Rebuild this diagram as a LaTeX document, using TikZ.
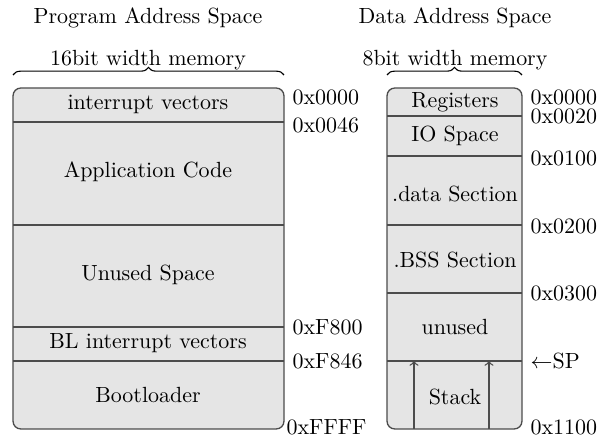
\documentclass[tikz,border=0pt]{standalone}
\usepackage{amsmath}
\usepackage{tikz}
\usetikzlibrary{positioning}
\usetikzlibrary{decorations.pathreplacing}
\usepackage{xcolor}

\tikzset{
  memblock/.style={draw=black!70, fill=black!10, line width=0.6pt, rounded corners=3.6pt},
  divider/.style={black!70, line width=0.6pt},
  addr/.style={anchor=west, inner sep=1pt},
  membrace/.style={decorate, decoration={brace, amplitude=3.5pt}, line width=0.5pt}
}

\begin{document}
\begin{tikzpicture}[x=0.016cm, y=-0.016cm]
\useasboundingbox (0,0) rectangle (608,437);

% program memory
\begin{scope}{
\draw[memblock] (13,88) rectangle (284,429);

\draw[divider] (13,122)--(284,122);
\draw[divider] (13,225)--(284,225);
\draw[divider] (13,327)--(284,327);
\draw[divider] (13,361)--(284,361);

\node (progtitle) at (148,18) {Program Address Space};
\node (progwidth) at (148,60) {16bit width memory};
\draw[membrace] (13,75)--(284,75);

% nodes
{
\node (ivec) at (148,104) {interrupt vectors};
\node (appcode) at (148,172) {Application Code};
\node (unusedspace) at (148,275) {Unused Space};
\node (blivec) at (148,343) {BL interrupt vectors};
\node (boot) at (148,395) {Bootloader};

\node[addr] at (290,97) {0x0000};
\node[addr] at (290,125) {0x0046};
\node[addr] at (290,327) {0xF800};
\node[addr] at (290,361) {0xF846};
\node[addr] at (284,427) {0xFFFF};
}
} \end{scope}

% data memory
\begin{scope}{
\draw[memblock] (387,88) rectangle (522,429);

\draw[divider] (387,116)--(522,116);
\draw[divider] (387,156)--(522,156);
\draw[divider] (387,225)--(522,225);
\draw[divider] (387,293)--(522,293);
\draw[divider] (387,361)--(522,361);

\node (datatitle) at (455,18) {Data Address Space};
\node (datawidth) at (455,60) {8bit width memory};
\draw[membrace] (387,75)--(522,75);

% nodes
{
\node (regs) at (455,102) {Registers};
\node (iospace) at (455,136) {IO Space};
\node (datasec) at (455,194) {.data Section};
\node (bsssec) at (455,260) {.BSS Section};
\node (unuseddata) at (455,327) {unused};
\node (stack) at (455,397) {Stack};

\node[addr] at (528,97) {0x0000};
\node[addr] at (528,116) {0x0020};
\node[addr] at (528,158) {0x0100};
\node[addr] at (528,226) {0x0200};
\node[addr] at (528,293) {0x0300};
\node[addr] (sp) at (528,361) {$\leftarrow$SP};
\node[addr] at (528,427) {0x1100};
}

% stack growth
\coordinate (stackLbot) at (414,429);
\coordinate (stackLtop) at (414,361);
\coordinate (stackRbot) at (489,429);
\coordinate (stackRtop) at (489,361);
\draw[divider, ->] (stackLbot)--(stackLtop);
\draw[divider, ->] (stackRbot)--(stackRtop);
} \end{scope}

\end{tikzpicture}
\end{document}
